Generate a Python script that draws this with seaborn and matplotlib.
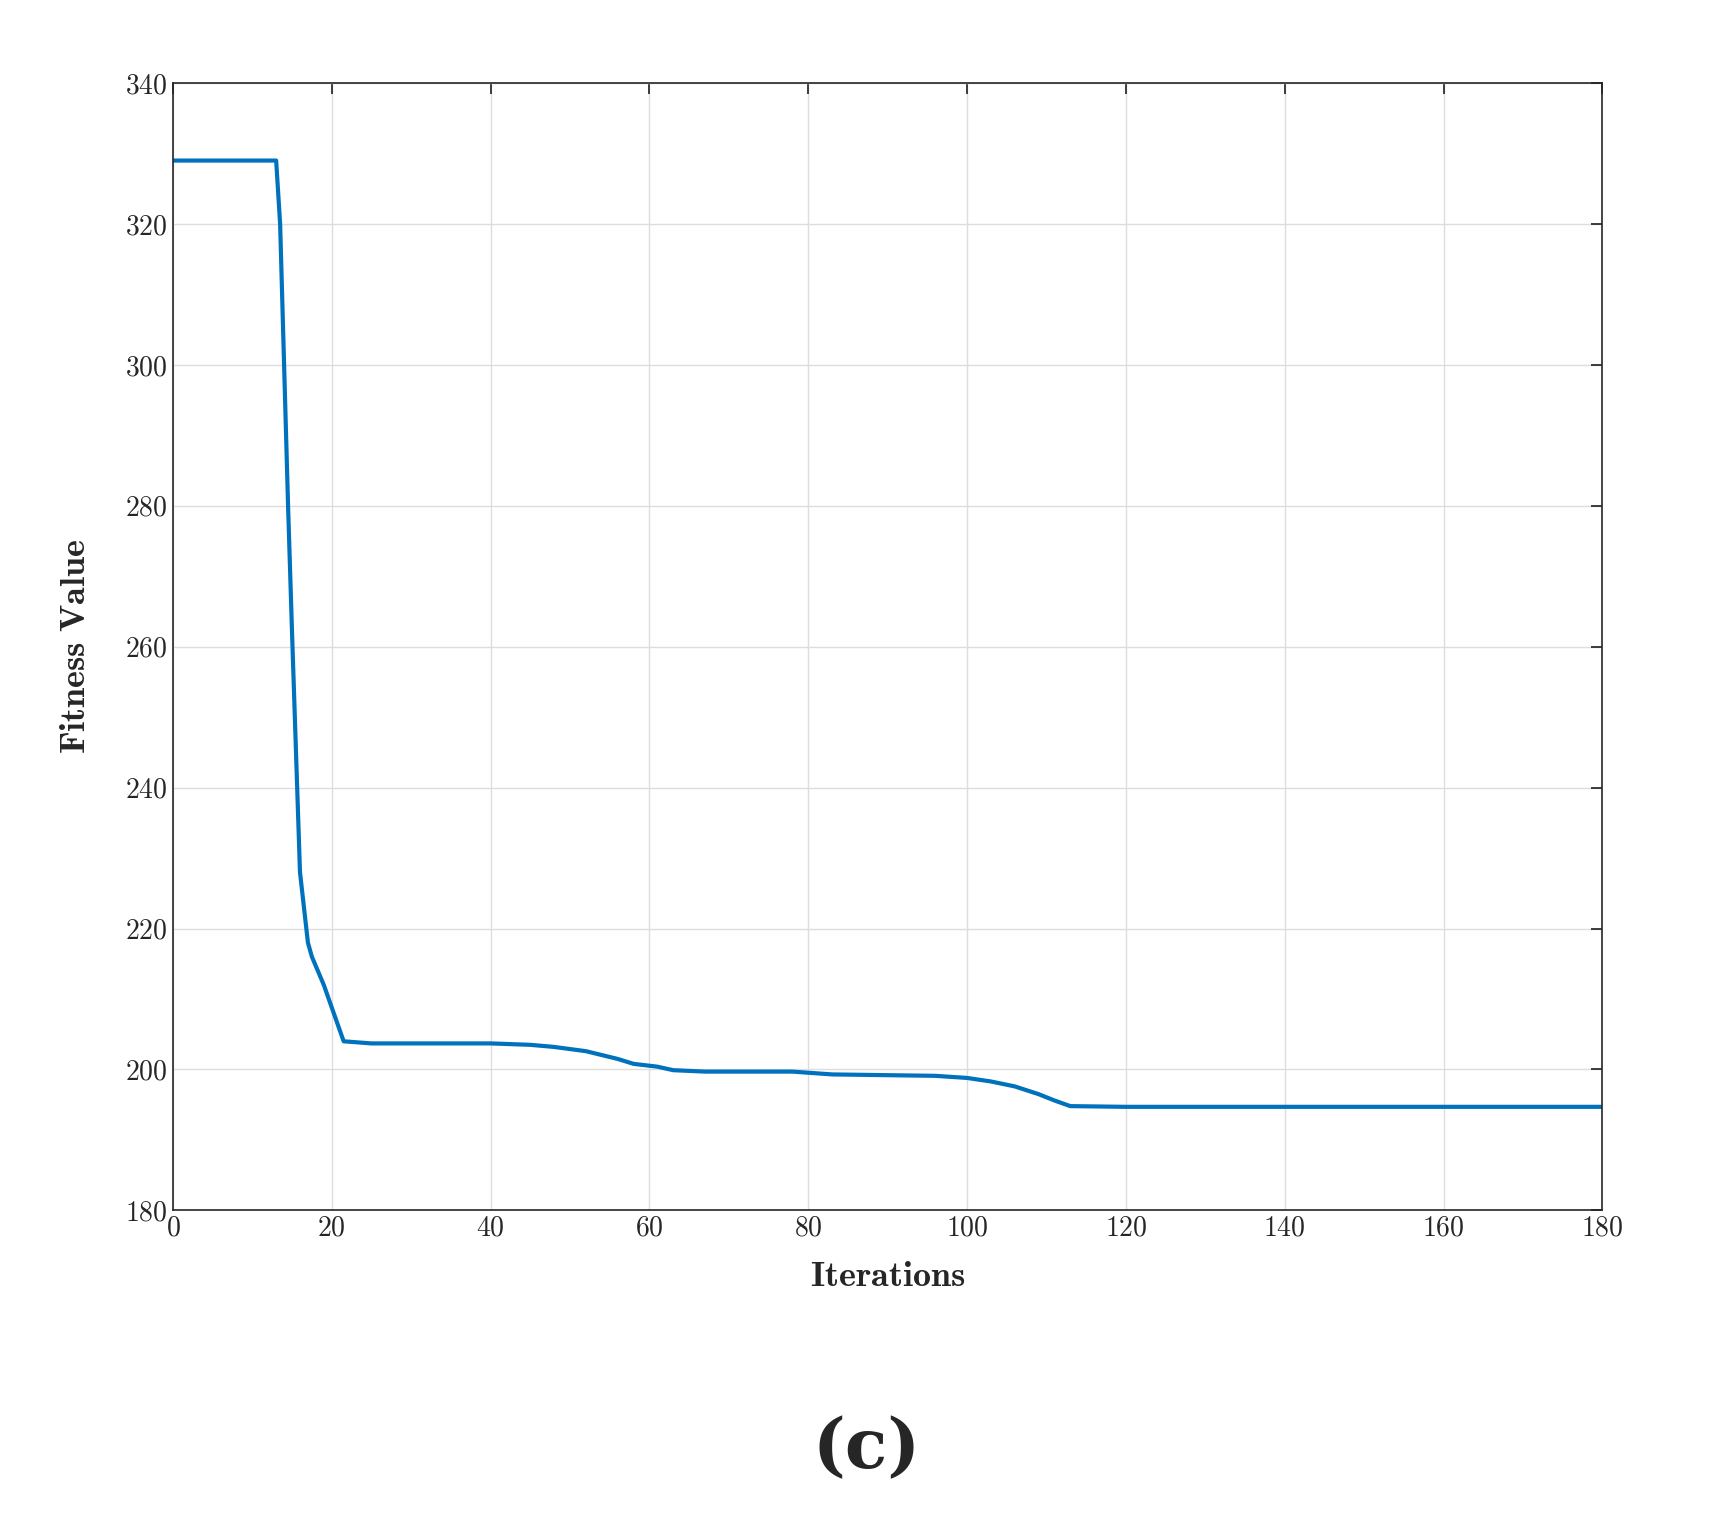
import matplotlib
matplotlib.use("Agg")
import matplotlib.pyplot as plt
import seaborn as sns
import pandas as pd

iterations = [0, 13, 13.5, 14, 14.5, 15, 15.5, 16, 17, 17.5, 19, 21.5, 25, 40, 45, 48, 52, 56, 58, 61, 63, 67, 78, 83, 96, 100, 103, 106, 109, 111, 113, 120, 180]
fitness = [329, 329, 320, 300, 280, 262, 245, 228, 218, 216, 212, 204, 203.7, 203.7, 203.5, 203.2, 202.6, 201.5, 200.8, 200.4, 199.9, 199.7, 199.7, 199.3, 199.1, 198.8, 198.3, 197.6, 196.5, 195.6, 194.8, 194.7, 194.7]
xticks = list(range(0, 181, 20))
yticks = list(range(180, 341, 20))

sns.set_theme(style="white")
plt.rcParams['font.family'] = ['serif']
plt.rcParams['font.serif'] = ['cmr10', 'DejaVu Serif']
plt.rcParams['mathtext.fontset'] = 'cm'
plt.rcParams['axes.unicode_minus'] = False
plt.rcParams['axes.formatter.use_mathtext'] = True

fig = plt.figure(figsize=(17.12, 15.38), dpi=100)
ax = fig.add_axes([0.101, 0.213, 0.835, 0.733])
df = pd.DataFrame({"x": iterations, "y": fitness})
sns.lineplot(data=df, x="x", y="y", ax=ax, color="#0072BD", linewidth=3)
ax.set_xlim(0, 180)
ax.set_ylim(180, 340)
ax.set_xticks(xticks)
ax.set_yticks(yticks)
ax.tick_params(labelsize=20, direction="in", length=8, top=True, right=True, color="#262626")
ax.grid(True, color="#dddddd", linewidth=1)
for s in ax.spines.values():
    s.set_color("#262626"); s.set_linewidth(1.2)
ax.set_xlabel(r"$\mathbf{Iterations}$", fontsize=26, labelpad=14)
ax.set_ylabel(r"$\mathbf{Fitness\ Value}$", fontsize=26, labelpad=24)
fig.text(0.506, 0.058, "(c)", fontsize=50, fontweight="bold", ha="center", va="center", family="DejaVu Serif")
fig.savefig("out.png", dpi=100, facecolor="white")
